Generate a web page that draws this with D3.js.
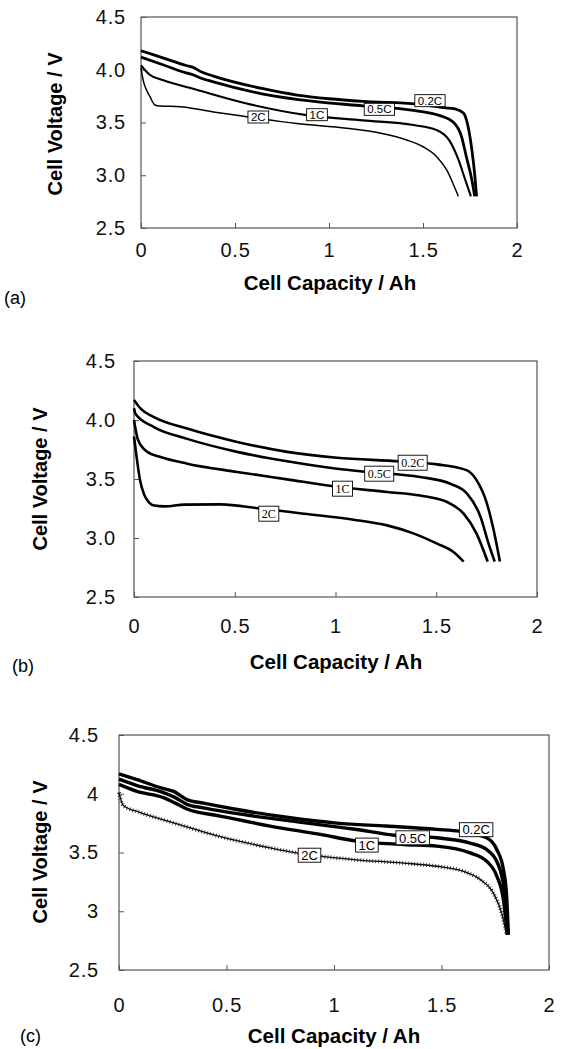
<!DOCTYPE html>
<html>
<head>
<meta charset="utf-8">
<script src="https://cdn.jsdelivr.net/npm/d3@7"></script>
<style>
body { margin: 0; background: #fff; }
svg { display: block; }
</style>
</head>
<body>
<script>
// capacity (Ah), voltage (V) pairs
let rates = ["0.2C", "0.5C", "1C", "2C"]
let xTicks = [0, 0.5, 1, 1.5, 2]
let yTicks = [2.5, 3, 3.5, 4, 4.5]

let a02 = [[0,4.18],[0.12,4.11],[0.24,4.04],[0.28,4.02],[0.32,3.98],[0.385,3.94],[0.65,3.82],[0.83,3.76],[1.0,3.725],[1.18,3.70],[1.47,3.675],[1.61,3.64],[1.67,3.63],[1.715,3.59],[1.74,3.46],[1.76,3.24],[1.776,2.99],[1.785,2.80]]
let a05 = [[0,4.12],[0.12,4.045],[0.24,3.97],[0.28,3.95],[0.32,3.92],[0.385,3.885],[0.65,3.77],[0.92,3.70],[1.18,3.658],[1.45,3.615],[1.59,3.565],[1.66,3.505],[1.705,3.366],[1.73,3.18],[1.76,2.955],[1.775,2.80]]
let a1 = [[0,4.04],[0.048,3.95],[0.119,3.90],[0.296,3.81],[0.562,3.68],[0.881,3.57],[1.18,3.52],[1.45,3.476],[1.57,3.43],[1.64,3.33],[1.69,3.14],[1.725,2.955],[1.755,2.80]]
let a2 = [[0,4.02],[0.008,3.93],[0.048,3.745],[0.074,3.666],[0.1,3.656],[0.207,3.65],[0.385,3.60],[0.562,3.555],[0.828,3.49],[1.094,3.445],[1.27,3.40],[1.413,3.334],[1.50,3.27],[1.573,3.176],[1.626,3.05],[1.66,2.92],[1.688,2.80]]

let b02 = [[0,4.17],[0.033,4.096],[0.099,4.025],[0.264,3.927],[0.512,3.814],[0.76,3.73],[1.008,3.68],[1.32,3.65],[1.504,3.624],[1.653,3.573],[1.70,3.49],[1.752,3.29],[1.785,3.065],[1.816,2.80]]
let b05 = [[0,4.10],[0.008,4.05],[0.099,3.94],[0.264,3.84],[0.512,3.73],[0.76,3.65],[1.008,3.587],[1.157,3.56],[1.42,3.517],[1.57,3.46],[1.653,3.376],[1.72,3.178],[1.76,2.95],[1.79,2.80]]
let b1 = [[0,4.0],[0.02,3.83],[0.066,3.73],[0.132,3.686],[0.264,3.63],[0.512,3.56],[0.76,3.497],[0.99,3.438],[1.256,3.39],[1.42,3.36],[1.554,3.305],[1.636,3.206],[1.70,3.037],[1.755,2.80]]
let b2 = [[0,3.86],[0.012,3.70],[0.03,3.49],[0.05,3.37],[0.075,3.30],[0.1,3.275],[0.15,3.268],[0.25,3.283],[0.43,3.285],[0.628,3.25],[0.843,3.206],[1.09,3.155],[1.256,3.107],[1.39,3.037],[1.504,2.952],[1.587,2.88],[1.636,2.80]]

let c02 = [[0,4.17],[0.084,4.12],[0.195,4.05],[0.254,4.02],[0.316,3.95],[0.393,3.92],[0.536,3.87],[0.78,3.80],[1.013,3.75],[1.245,3.725],[1.478,3.697],[1.586,3.68],[1.71,3.625],[1.757,3.526],[1.788,3.355],[1.803,3.127],[1.811,2.80]]
let c05 = [[0,4.124],[0.084,4.07],[0.207,4.01],[0.262,3.967],[0.316,3.91],[0.393,3.88],[0.626,3.81],[0.858,3.754],[1.09,3.70],[1.29,3.645],[1.478,3.625],[1.633,3.58],[1.71,3.526],[1.772,3.355],[1.795,3.127],[1.808,2.80]]
let c1 = [[0,4.08],[0.084,4.02],[0.207,3.967],[0.262,3.92],[0.316,3.87],[0.471,3.81],[0.703,3.725],[0.936,3.654],[1.106,3.597],[1.323,3.568],[1.478,3.554],[1.633,3.497],[1.71,3.426],[1.757,3.30],[1.788,3.098],[1.806,2.80]]
let c2 = [[0,4.01],[0.02,3.90],[0.1,3.84],[0.239,3.76],[0.471,3.635],[0.703,3.54],[0.827,3.497],[1.09,3.44],[1.323,3.41],[1.478,3.383],[1.602,3.34],[1.68,3.27],[1.741,3.155],[1.78,2.984],[1.803,2.80]]

// where the rate tags sit, in data units
let tagsA = [[1.537,3.707],[1.268,3.625],[0.936,3.574],[0.624,3.552]]
let tagsB = [[1.383,3.638],[1.217,3.545],[1.035,3.418],[0.669,3.206]]
let tagsC = [[1.661,3.694],[1.366,3.625],[1.153,3.563],[0.886,3.477]]

let w = 562
let h = 1049

let svg = d3.select("body").append("svg")
  .attr("width", w)
  .attr("height", h)
  .style("font-family", "Arial, 'Liberation Sans', sans-serif")

let panels = [
  {name: "(a)", series: [a02, a05, a1, a2], tags: tagsA, widths: [2.8, 2.8, 2.1, 1.5],
   left: 141, right: 517, top: 17, bottom: 228, yFmt: d3.format(".1f"),
   yPad: 15, xPad: 15, tagFont: "Arial, 'Liberation Sans', sans-serif", tagSize: 11.5, tagH: 12,
   yTitle: [55, 124], xTitle: [330, 283], letter: [4, 298]},
  {name: "(b)", series: [b02, b05, b1, b2], tags: tagsB, widths: [2.6, 2.6, 2.6, 2.6],
   left: 134, right: 537, top: 361, bottom: 597, yFmt: d3.format(".1f"),
   yPad: 18, xPad: 22, tagFont: "'Liberation Serif', 'Times New Roman', serif", tagSize: 12, tagH: 15,
   yTitle: [40, 479], xTitle: [336, 662], letter: [12, 666]},
  {name: "(c)", series: [c02, c05, c1, c2], tags: tagsC, widths: [3.4, 3.4, 3.4, 1.3],
   left: 119, right: 549, top: 735, bottom: 970, yFmt: d => String(d),
   yPad: 20, xPad: 28, tagFont: "Arial, 'Liberation Sans', sans-serif", tagSize: 13, tagH: 14,
   yTitle: [40, 852], xTitle: [334, 1036], letter: [20, 1036]}
]

let drawPanel = (p, idx)=>{
  let xScale = d3.scaleLinear().domain([0, 2]).range([p.left, p.right])
  let yScale = d3.scaleLinear().domain([2.5, 4.5]).range([p.bottom, p.top])

  let g = svg.append("g").attr("class", "panel")

  g.append("rect")
    .attr("x", p.left)
    .attr("y", p.top)
    .attr("width", p.right - p.left)
    .attr("height", p.bottom - p.top)
    .attr("fill", "none")
    .attr("stroke", "#333")
    .attr("stroke-width", 1)

  let yAxis = d3.axisLeft(yScale)
    .tickValues(yTicks)
    .tickFormat(p.yFmt)
    .tickSizeInner(-5)
    .tickSizeOuter(0)
    .tickPadding(p.yPad)
  let ya = g.append("g")
    .attr("transform", "translate(" + p.left + ",0)")
    .call(yAxis)
  ya.select(".domain").remove()

  let xAxis = d3.axisBottom(xScale)
    .tickValues(xTicks)
    .tickFormat(d => String(d))
    .tickSizeInner(-5)
    .tickSizeOuter(0)
    .tickPadding(p.xPad)
  let xa = g.append("g")
    .attr("transform", "translate(0," + p.bottom + ")")
    .call(xAxis)
  xa.select(".domain").remove()

  g.selectAll(".tick text")
    .attr("font-size", 20)
    .attr("letter-spacing", "0.8px")
    .attr("font-family", "Arial, 'Liberation Sans', sans-serif")
    .attr("fill", "#111")
  g.selectAll(".tick line").attr("stroke", "#555")

  let line = d3.line()
    .x(d => xScale(d[0]))
    .y(d => yScale(d[1]))
    .curve(d3.curveMonotoneX)

  p.series.forEach((s, i)=>{
    g.append("path")
      .datum(s)
      .attr("d", line)
      .attr("fill", "none")
      .attr("stroke", "#000")
      .attr("stroke-width", p.widths[i])
      .attr("stroke-linejoin", "round")
    // the thin 2C trace in (c) is drawn with cross markers
    if(idx === 2 && i === 3){
      g.append("path")
        .datum(s)
        .attr("d", line)
        .attr("fill", "none")
        .attr("stroke", "#222")
        .attr("stroke-width", 4)
        .attr("stroke-dasharray", "0.8,2.2")
    }
  })

  p.tags.forEach((t, i)=>{
    let tg = g.append("g")
      .attr("transform", "translate(" + xScale(t[0]) + "," + yScale(t[1]) + ")")
    let txt = tg.append("text")
      .text(rates[i])
      .attr("text-anchor", "middle")
      .attr("dy", "0.36em")
      .attr("font-family", p.tagFont)
      .attr("font-size", p.tagSize)
      .attr("fill", "#000")
    let bw = txt.node().getComputedTextLength() + 6
    tg.insert("rect", "text")
      .attr("x", -bw/2)
      .attr("y", -p.tagH/2)
      .attr("width", bw)
      .attr("height", p.tagH)
      .attr("fill", "#fff")
      .attr("stroke", "#000")
      .attr("stroke-width", 0.9)
  })

  svg.append("text")
    .text("Cell Voltage / V")
    .attr("transform", "translate(" + p.yTitle[0] + "," + p.yTitle[1] + ") rotate(-90)")
    .attr("text-anchor", "middle")
    .attr("dy", "0.35em")
    .attr("font-weight", "bold")
    .attr("font-size", 20)

  svg.append("text")
    .text("Cell Capacity / Ah")
    .attr("x", p.xTitle[0])
    .attr("y", p.xTitle[1])
    .attr("text-anchor", "middle")
    .attr("dy", "0.35em")
    .attr("font-weight", "bold")
    .attr("font-size", 20.5)

  svg.append("text")
    .text(p.name)
    .attr("x", p.letter[0])
    .attr("y", p.letter[1])
    .attr("dy", "0.35em")
    .attr("font-size", 18)
}

panels.forEach(drawPanel)
</script>
</body>
</html>
